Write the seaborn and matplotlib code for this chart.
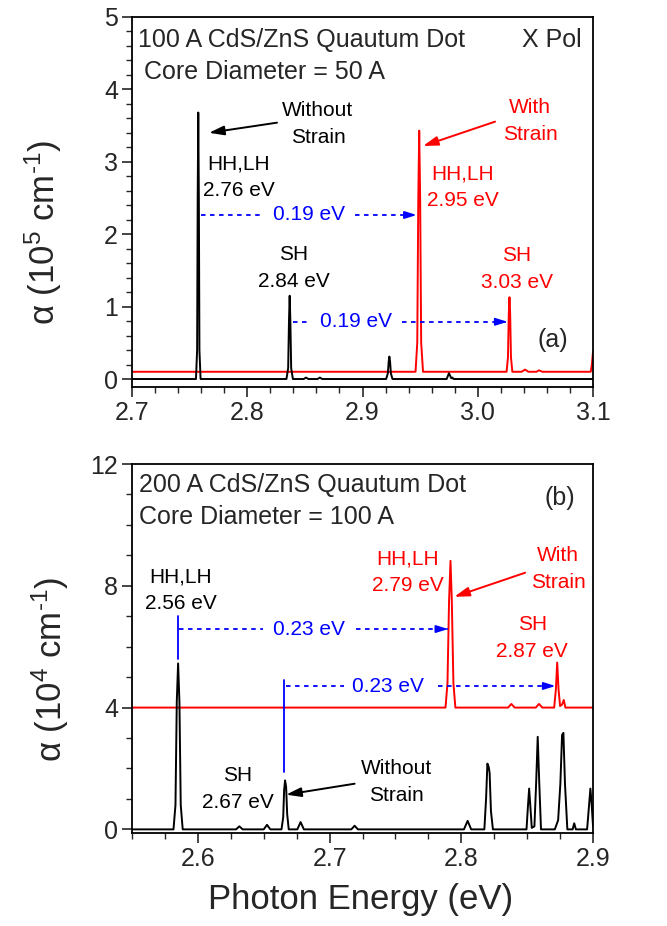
import numpy as np
import pandas as pd
import matplotlib
matplotlib.use("Agg")
from matplotlib import pyplot as plt
from matplotlib.ticker import MultipleLocator
import seaborn as sns

# ---- panel (a): 100 A dot, core 50 A (alpha in 1e5 cm^-1) ----
a_nostrain_x = [2.700, 2.7555, 2.7565, 2.7570, 2.7575, 2.7580, 2.7585, 2.7595,
                2.8340, 2.8355, 2.8362, 2.8368, 2.8374, 2.8381, 2.8396,
                2.8490, 2.8510, 2.8530, 2.8610, 2.8630, 2.8650,
                2.9205, 2.9220, 2.9227, 2.9233, 2.9239, 2.9246, 2.9260,
                2.9730, 2.9750, 2.9770, 2.9780, 2.9790, 3.100]
a_nostrain_y = [0, 0, 0.4, 2.5, 3.68, 2.5, 0.4, 0,
                0, 0.15, 0.8, 1.15, 0.8, 0.15, 0,
                0, 0.02, 0, 0, 0.02, 0,
                0, 0.08, 0.24, 0.31, 0.24, 0.08, 0,
                0, 0.08, 0.01, 0.02, 0, 0]
a_strain_x = [2.700, 2.9460, 2.9475, 2.9484, 2.9492, 2.9500, 2.9509, 2.9525,
              3.0250, 3.0262, 3.0269, 3.0275, 3.0281, 3.0288, 3.0300,
              3.0380, 3.0410, 3.0440, 3.0510, 3.0530, 3.0560,
              3.0980, 3.0990, 3.1000]
a_strain_y = [0.1, 0.1, 0.5, 2.5, 3.43, 2.5, 0.5, 0.1,
              0.1, 0.3, 0.9, 1.13, 0.9, 0.3, 0.1,
              0.1, 0.13, 0.1, 0.1, 0.12, 0.1,
              0.1, 0.2, 0.38]

# ---- panel (b): 200 A dot, core 100 A (alpha in 1e4 cm^-1) ----
b_nostrain_x = [2.550, 2.5815, 2.5830, 2.5840, 2.5850, 2.5860, 2.5870, 2.5885,
                2.6290, 2.6315, 2.6340, 2.6500, 2.6525, 2.6550,
                2.6635, 2.6648, 2.6655, 2.6662, 2.6670, 2.6678, 2.6690,
                2.6755, 2.6780, 2.6805, 2.7165, 2.7190, 2.7215,
                2.8020, 2.8048, 2.8075,
                2.8175, 2.8188, 2.8198, 2.8208, 2.8215, 2.8225, 2.8240,
                2.8495, 2.8505, 2.8515, 2.8525, 2.8535, 2.8555, 2.8568, 2.8580, 2.8592, 2.8605,
                2.8710, 2.8735, 2.8752, 2.8765, 2.8775, 2.8787, 2.8805,
                2.8845, 2.8857, 2.8870, 2.8955, 2.8970, 2.8980, 2.8990, 2.9000]
b_nostrain_y = [0, 0, 0.8, 4.2, 5.45, 4.2, 0.8, 0,
                0, 0.1, 0, 0, 0.15, 0,
                0, 0.4, 1.3, 1.61, 1.4, 0.5, 0,
                0, 0.24, 0, 0, 0.12, 0,
                0, 0.28, 0,
                0, 1.0, 2.16, 2.05, 1.85, 0.6, 0,
                0, 0.7, 1.34, 0.7, 0.05, 0.1, 1.5, 3.04, 1.5, 0,
                0, 0.3, 1.5, 3.1, 3.17, 1.5, 0,
                0, 0.2, 0, 0, 0.8, 1.34, 0.8, 0.1]
b_strain_x = [2.550, 2.7880, 2.7895, 2.7907, 2.7918, 2.7928, 2.7940, 2.7955,
              2.8355, 2.8380, 2.8405, 2.8565, 2.8590, 2.8615,
              2.8705, 2.8718, 2.8728, 2.8738, 2.8750, 2.8765, 2.8778, 2.8790, 2.9000]
b_strain_y = [4.0, 4.0, 4.8, 7.5, 8.82, 7.5, 4.8, 4.0,
              4.0, 4.12, 4.0, 4.0, 4.12, 4.0,
              4.0, 4.6, 5.48, 4.6, 4.05, 4.1, 4.25, 4.0, 4.0]

sns.set_style("ticks")
plt.rcParams["font.family"] = ["Liberation Sans", "DejaVu Sans"]
plt.rcParams["mathtext.fontset"] = "custom"
plt.rcParams["mathtext.rm"] = "Liberation Sans"
plt.rcParams["mathtext.default"] = "regular"

fig = plt.figure(figsize=(6.67, 9.26), dpi=100)
ax_a = fig.add_axes([0.1979, 0.5821, 0.6912, 0.3996])
ax_b = fig.add_axes([0.1979, 0.1004, 0.6912, 0.3985])

BLUE = "#0000ff"
RED = "#ff0000"


def curve(ax, xs, ys, color):
    df = pd.DataFrame({"E": xs, "alpha": ys})
    sns.lineplot(data=df, x="E", y="alpha", ax=ax, color=color, lw=1.4,
                 estimator=None, sort=False)


def dashed_arrow(ax, y, x0, gap0, gap1, x1):
    ax.plot([x0, gap0], [y, y], color=BLUE, lw=1.3, ls=(0, (2.5, 2.5)))
    ax.plot([gap1, x1], [y, y], color=BLUE, lw=1.3, ls=(0, (2.5, 2.5)))
    ax.annotate("", xy=(x1, y), xytext=(x1 - 0.006, y),
                arrowprops=dict(arrowstyle="-|>,head_length=0.7,head_width=0.22",
                                color=BLUE, lw=1.3, shrinkA=0, shrinkB=0))


def pointer(ax, tail, head, color):
    ax.annotate("", xy=head, xytext=tail,
                arrowprops=dict(arrowstyle="-|>,head_length=0.9,head_width=0.28",
                                color=color, lw=1.4, shrinkA=0, shrinkB=0))


def style(ax):
    for s in ax.spines.values():
        s.set_linewidth(1.3)
        s.set_color("black")
    ax.tick_params(which="major", direction="out", length=7, width=1.2,
                   labelsize=18, pad=3, top=False, right=False)
    ax.tick_params(which="minor", direction="out", length=4, width=1.0,
                   top=False, right=False)
    ax.set_xlabel("")
    ax.set_ylabel("")


# ---- panel (a) ----
curve(ax_a, a_strain_x, a_strain_y, RED)
curve(ax_a, a_nostrain_x, a_nostrain_y, "black")
ax_a.set_xlim(2.7, 3.1)
ax_a.set_ylim(-0.11, 5)
ax_a.xaxis.set_major_locator(MultipleLocator(0.1))
ax_a.xaxis.set_minor_locator(MultipleLocator(0.02))
ax_a.yaxis.set_major_locator(MultipleLocator(1))
ax_a.yaxis.set_minor_locator(MultipleLocator(0.2))
style(ax_a)

ax_a.text(0.013, 0.938, "100 A CdS/ZnS Quautum Dot", transform=ax_a.transAxes,
          fontsize=18, ha="left", va="center")
ax_a.text(0.026, 0.851, "Core Diameter = 50 A", transform=ax_a.transAxes,
          fontsize=18, ha="left", va="center")
ax_a.text(0.976, 0.938, "X Pol", transform=ax_a.transAxes,
          fontsize=18, ha="right", va="center")
ax_a.text(3.0653, 0.54, "(a)", fontsize=18, ha="center", va="center")

kw = dict(fontsize=15, ha="center", va="center", linespacing=1.5)
ax_a.text(2.8614, 3.52, "Without\nStrain", color="black", **kw)
ax_a.text(2.7928, 2.79, "HH,LH\n2.76 eV", color="black", **kw)
ax_a.text(2.8406, 1.53, "SH\n2.84 eV", color="black", **kw)
ax_a.text(3.0453, 3.56, "With\nStrain", color=RED, **kw)
ax_a.text(2.9872, 2.65, "HH,LH\n2.95 eV", color=RED, **kw)
ax_a.text(3.034, 1.52, "SH\n3.03 eV", color=RED, **kw)
ax_a.text(2.8536, 2.265, "0.19 eV", color=BLUE, **kw)
ax_a.text(2.8944, 0.79, "0.19 eV", color=BLUE, **kw)

pointer(ax_a, (2.8258, 3.54), (2.7668, 3.40), "black")
pointer(ax_a, (3.015, 3.554), (2.9525, 3.218), RED)
dashed_arrow(ax_a, 2.265, 2.760, 2.8135, 2.8935, 2.947)
dashed_arrow(ax_a, 0.79, 2.8394, 2.855, 2.934, 3.0258)

# ---- panel (b) ----
curve(ax_b, b_strain_x, b_strain_y, RED)
curve(ax_b, b_nostrain_x, b_nostrain_y, "black")
ax_b.set_xlim(2.55, 2.9)
ax_b.set_ylim(-0.12, 12)
ax_b.xaxis.set_major_locator(MultipleLocator(0.1))
ax_b.xaxis.set_minor_locator(MultipleLocator(0.025))
ax_b.yaxis.set_major_locator(MultipleLocator(4))
ax_b.yaxis.set_minor_locator(MultipleLocator(1))
style(ax_b)

ax_b.text(0.015, 0.943, "200 A CdS/ZnS Quautum Dot", transform=ax_b.transAxes,
          fontsize=18, ha="left", va="center")
ax_b.text(0.015, 0.856, "Core Diameter = 100 A", transform=ax_b.transAxes,
          fontsize=18, ha="left", va="center")
ax_b.text(0.928, 0.908, "(b)", transform=ax_b.transAxes,
          fontsize=18, ha="center", va="center")

ax_b.text(2.5871, 7.86, "HH,LH\n2.56 eV", color="black", **kw)
ax_b.text(2.7591, 8.45, "HH,LH\n2.79 eV", color=RED, **kw)
ax_b.text(2.8735, 8.55, "With\nStrain", color=RED, **kw)
ax_b.text(2.8538, 6.28, "SH\n2.87 eV", color=RED, **kw)
ax_b.text(2.6303, 1.32, "SH\n2.67 eV", color="black", **kw)
ax_b.text(2.7508, 1.55, "Without\nStrain", color="black", **kw)
ax_b.text(2.684, 6.58, "0.23 eV", color=BLUE, **kw)
ax_b.text(2.744, 4.70, "0.23 eV", color=BLUE, **kw)

pointer(ax_b, (2.8485, 8.43), (2.7947, 7.64), RED)
pointer(ax_b, (2.719, 1.5), (2.667, 1.14), "black")
ax_b.plot([2.5851, 2.5851], [5.61, 7.02], color=BLUE, lw=1.3)
ax_b.plot([2.6652, 2.6652], [1.88, 4.92], color=BLUE, lw=1.3)
dashed_arrow(ax_b, 6.58, 2.586, 2.6495, 2.720, 2.790)
dashed_arrow(ax_b, 4.71, 2.667, 2.711, 2.782, 2.8715)

# ---- axis titles ----
fig.text(0.0645, 0.7495, "α (10$^{5}$ cm$^{\\text{-}1}$)", rotation=90,
         fontsize=25, ha="center", va="center")
fig.text(0.075, 0.2775, "α (10$^{4}$ cm$^{\\text{-}1}$)", rotation=90,
         fontsize=25, ha="center", va="center")
fig.text(0.54, 0.029, "Photon Energy (eV)", fontsize=25, ha="center", va="center")

fig.savefig("out.png", dpi=100)
